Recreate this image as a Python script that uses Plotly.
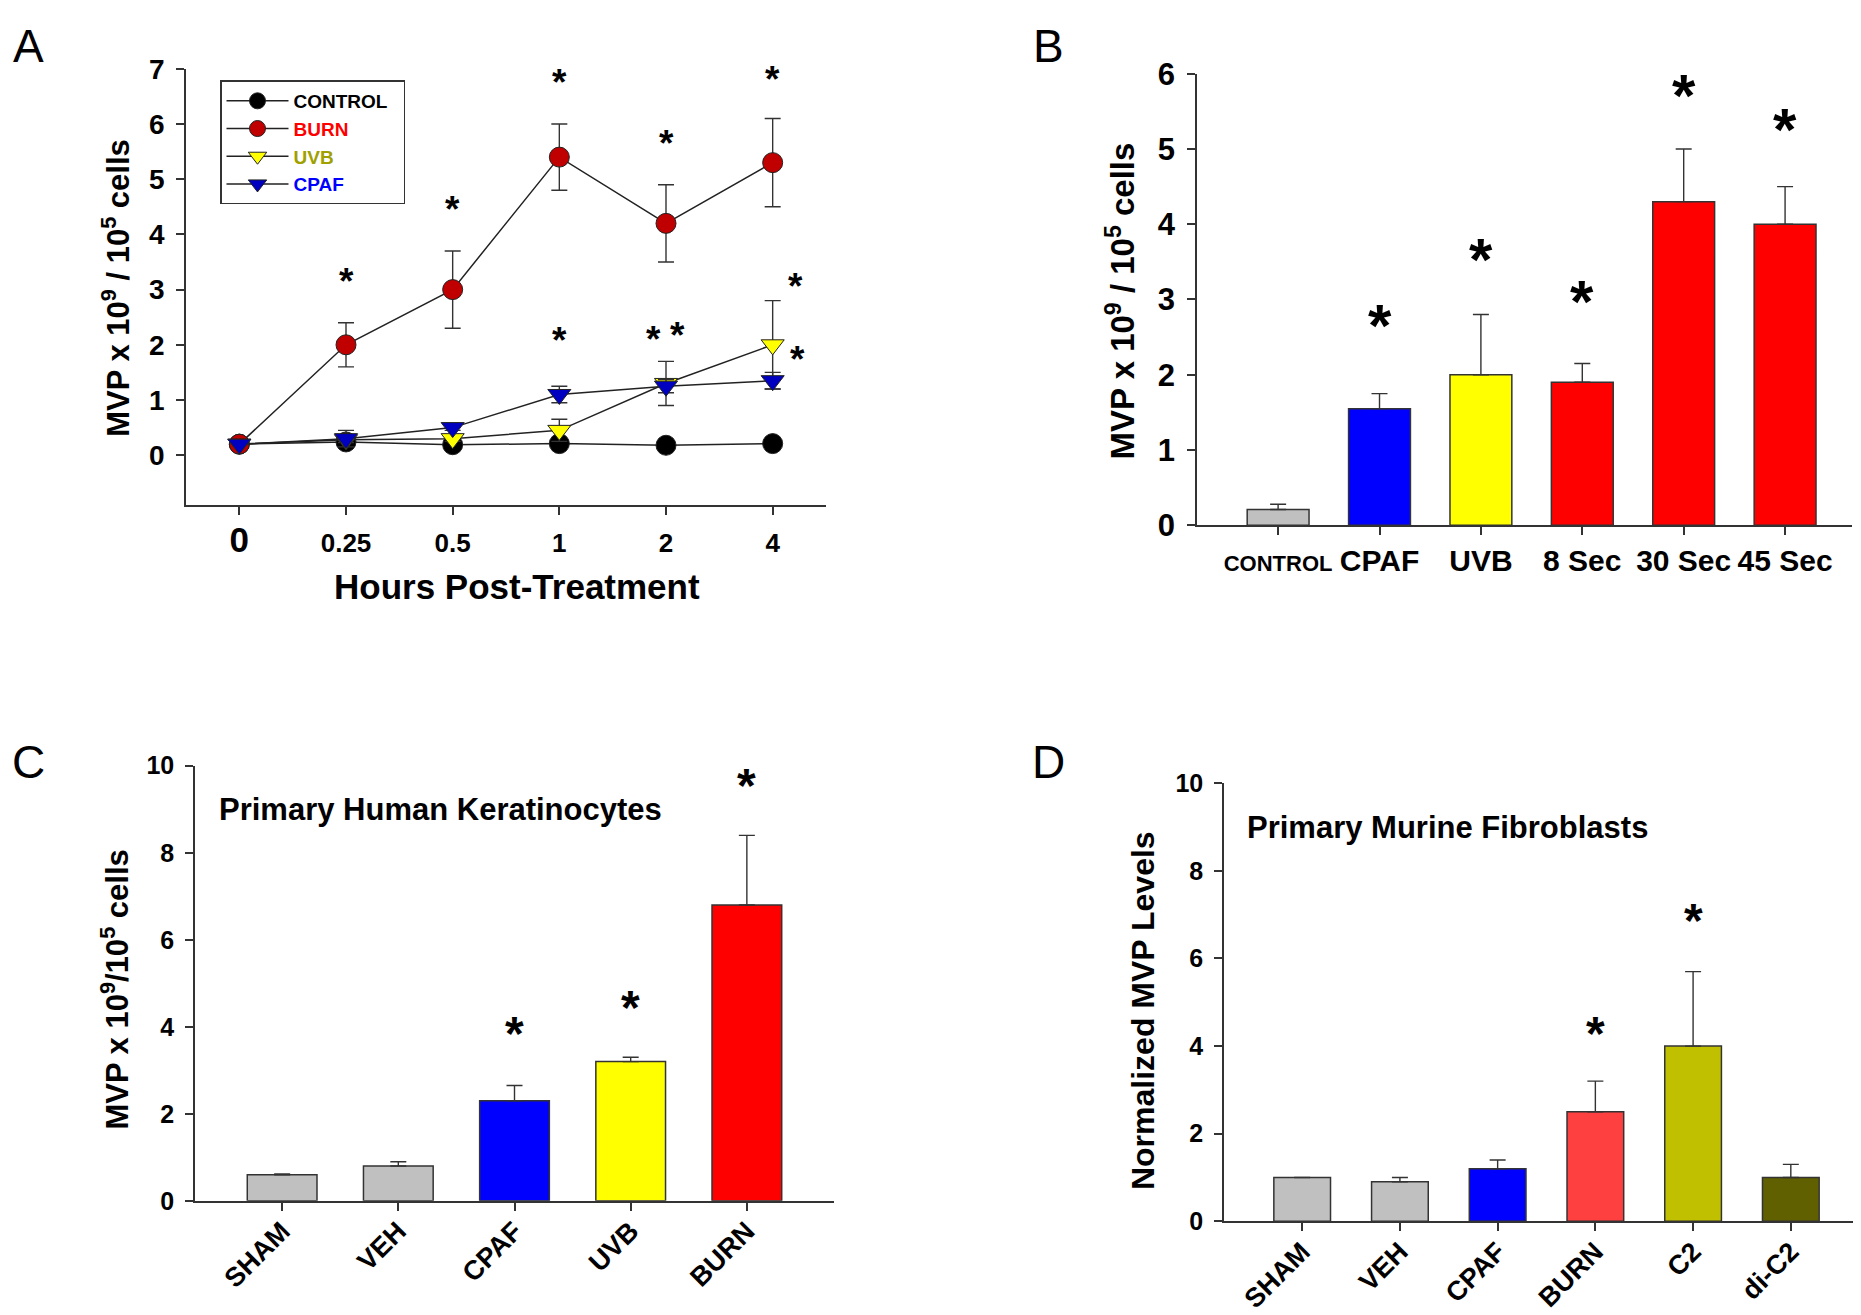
import plotly.graph_objects as go

W, H = 1861, 1315

# ---------------- Panel A data ----------------
a_hours = ["0", "0.25", "0.5", "1", "2", "4"]
a_control = [0.20, 0.24, 0.19, 0.21, 0.18, 0.21]
a_burn = [0.20, 2.00, 3.00, 5.40, 4.20, 5.30]
a_burn_err = [0.0, 0.40, 0.70, 0.60, 0.70, 0.80]
a_uvb = [0.20, 0.28, 0.30, 0.45, 1.30, 2.00]
a_uvb_err = [0.0, 0.05, 0.05, 0.20, 0.40, 0.80]
a_cpaf = [0.20, 0.30, 0.50, 1.10, 1.25, 1.35]
a_cpaf_err = [0.0, 0.15, 0.05, 0.15, 0.12, 0.15]
a_star_x = [1, 2, 3, 4, 5, 3, 3.88, 4.11, 5.21, 5.23]
a_star_y = [3.04, 4.33, 6.63, 5.54, 6.69, 1.96, 1.99, 2.06, 2.94, 1.62]

# ---------------- Panel B data ----------------
b_cats = ["CONTROL", "CPAF", "UVB", "8 Sec", "30 Sec", "45 Sec"]
b_vals = [0.21, 1.55, 2.00, 1.90, 4.30, 4.00]
b_err = [0.07, 0.20, 0.80, 0.25, 0.70, 0.50]
b_colors = ["#c0c0c0", "#0000ff", "#ffff00", "#ff0000", "#ff0000", "#ff0000"]
b_star_x = [1, 2, 3, 4, 5]
b_star_y = [2.52, 3.40, 2.84, 5.58, 5.12]

# ---------------- Panel C data ----------------
c_cats = ["SHAM", "VEH", "CPAF", "UVB", "BURN"]
c_vals = [0.60, 0.80, 2.30, 3.20, 6.80]
c_err = [0.02, 0.10, 0.35, 0.10, 1.60]
c_colors = ["#c0c0c0", "#c0c0c0", "#0000ff", "#ffff00", "#ff0000"]
c_star_x = [2, 3, 4]
c_star_y = [3.66, 4.26, 9.35]

# ---------------- Panel D data ----------------
d_cats = ["SHAM", "VEH", "CPAF", "BURN", "C2", "di-C2"]
d_vals = [1.00, 0.90, 1.20, 2.50, 4.00, 1.00]
d_err = [0.0, 0.10, 0.20, 0.70, 1.70, 0.30]
d_colors = ["#c0c0c0", "#c0c0c0", "#0000ff", "#ff4040", "#c0c000", "#606000"]
d_star_x = [3, 4]
d_star_y = [4.11, 6.69]

ARIAL = "Liberation Sans, Arial, DejaVu Sans"
INK = "#333333"


def px_dom_x(a, b):
    return [a / W, b / W]


def px_dom_y(top, bottom):
    return [1 - bottom / H, 1 - top / H]


def bold(size):
    return dict(family=ARIAL, size=size, color="#000", weight="bold")


fig = go.Figure()

# ---- Panel A traces ----
xa = list(range(len(a_hours)))
err_style = dict(type="data", visible=True, color=INK, thickness=1.4, width=8)
fig.add_trace(go.Scatter(
    x=xa, y=a_control, mode="lines+markers", name="CONTROL&nbsp;&nbsp;",
    line=dict(color="#222222", width=1.5),
    marker=dict(symbol="circle", size=20, color="#000000", line=dict(color="#222222", width=1)),
    xaxis="x", yaxis="y"))
fig.add_trace(go.Scatter(
    x=xa, y=a_burn, mode="lines+markers",
    name="<span style='color:#ff0000'>BURN</span>",
    line=dict(color="#222222", width=1.5),
    error_y=dict(array=a_burn_err, **err_style),
    marker=dict(symbol="circle", size=20, color="#c00000", line=dict(color="#222222", width=1)),
    xaxis="x", yaxis="y"))
fig.add_trace(go.Scatter(
    x=xa, y=a_uvb, mode="lines+markers",
    name="<span style='color:#a0a000'>UVB</span>",
    line=dict(color="#222222", width=1.5),
    error_y=dict(array=a_uvb_err, **err_style),
    marker=dict(symbol="triangle-down", size=20, color="#ffff00", line=dict(color="#222222", width=1)),
    xaxis="x", yaxis="y"))
fig.add_trace(go.Scatter(
    x=xa, y=a_cpaf, mode="lines+markers",
    name="<span style='color:#0000ff'>CPAF</span>",
    line=dict(color="#222222", width=1.5),
    error_y=dict(array=a_cpaf_err, **err_style),
    marker=dict(symbol="triangle-down", size=20, color="#0000c0", line=dict(color="#222222", width=1)),
    xaxis="x", yaxis="y"))


def add_bars(cats, vals, errs, colors, xaxis, yaxis, width):
    fig.add_trace(go.Bar(
        x=list(range(len(cats))), y=vals, width=width,
        marker=dict(color=colors, line=dict(color=INK, width=1.5)),
        error_y=dict(type="data", array=errs, arrayminus=[0] * len(errs), symmetric=False,
                     color=INK, thickness=1.4, width=8),
        showlegend=False, xaxis=xaxis, yaxis=yaxis))


add_bars(b_cats, b_vals, b_err, b_colors, "x2", "y2", 0.61)
add_bars(c_cats, c_vals, c_err, c_colors, "x3", "y3", 0.6)
add_bars(d_cats, d_vals, d_err, d_colors, "x4", "y4", 0.58)

axis_common = dict(showgrid=False, zeroline=False, showline=True, linecolor=INK, linewidth=1.5,
                   ticks="outside", ticklen=8, tickwidth=1.5, tickcolor=INK)

a_ticktext = ["<span style='font-size:35px'>%s</span>" % h if h == "0" else h for h in a_hours]
b_ticktext = ["<span style='font-size:22px'>%s</span>" % c if c == "CONTROL" else c for c in b_cats]

fig.update_layout(
    width=W, height=H, margin=dict(l=0, r=0, t=0, b=0),
    paper_bgcolor="white", plot_bgcolor="white",
    xaxis=dict(domain=px_dom_x(178, 818), range=[-0.5, 5.5], anchor="y",
               tickvals=xa, ticktext=a_ticktext, tickangle=0, ticklabelstandoff=6,
               tickfont=bold(26), **axis_common),
    yaxis=dict(domain=px_dom_y(45, 493), range=[-0.9, 7], anchor="x",
               tickvals=list(range(0, 8)), ticklabelstandoff=6,
               tickfont=bold(28), **axis_common),
    xaxis2=dict(domain=px_dom_x(1189, 1844), range=[-0.8, 5.66], anchor="y2",
                tickvals=list(range(len(b_cats))), ticktext=b_ticktext, tickangle=0,
                tickfont=bold(30), **axis_common),
    yaxis2=dict(domain=px_dom_y(50, 514), range=[0, 6], anchor="x2",
                tickvals=list(range(0, 7)), ticklabelstandoff=6,
                tickfont=bold(31), **axis_common),
    xaxis3=dict(domain=px_dom_x(187, 826), range=[-0.75, 4.75], anchor="y3",
                tickvals=list(range(len(c_cats))), ticktext=c_cats, tickangle=-45,
                ticklabelstandoff=-6, tickfont=bold(27), **axis_common),
    yaxis3=dict(domain=px_dom_y(761, 1208), range=[0, 10], anchor="x3",
                tickvals=list(range(0, 11, 2)), ticklabelstandoff=6,
                tickfont=bold(25), **axis_common),
    xaxis4=dict(domain=px_dom_x(1216, 1861), range=[-0.8, 5.8], anchor="y4",
                tickvals=list(range(len(d_cats))), ticktext=d_cats, tickangle=-45,
                ticklabelstandoff=-6, tickfont=bold(27), **axis_common),
    yaxis4=dict(domain=px_dom_y(779, 1229), range=[0, 10], anchor="x4",
                tickvals=list(range(0, 11, 2)), ticklabelstandoff=6,
                tickfont=bold(25), **axis_common),
    legend=dict(x=212 / W, y=1 - 57 / H, xanchor="left", yanchor="top",
                bordercolor=INK, borderwidth=1.5, bgcolor="white",
                font=bold(19), itemsizing="trace", itemwidth=62, tracegroupgap=0),
    showlegend=True,
)

ann = []


def star(x, y, xref, yref, size):
    ann.append(dict(x=x, y=y, xref=xref, yref=yref, text="*", showarrow=False,
                    font=bold(size), xanchor="center", yanchor="middle", yshift=0.17 * size))


for x, y in zip(a_star_x, a_star_y):
    star(x, y, "x", "y", 37)
for x, y in zip(b_star_x, b_star_y):
    star(x, y, "x2", "y2", 60)
for x, y in zip(c_star_x, c_star_y):
    star(x, y, "x3", "y3", 48)
for x, y in zip(d_star_x, d_star_y):
    star(x, y, "x4", "y4", 48)


def ptext(text, x, y, size, weight="normal", angle=0, xanchor="center"):
    ann.append(dict(x=x / W, y=1 - y / H, xref="paper", yref="paper", text=text, showarrow=False,
                    textangle=angle, xanchor=xanchor, yanchor="middle",
                    font=dict(family=ARIAL, size=size, color="#000", weight=weight)))


# panel letters
ptext("A", 20, 22, 46)
ptext("B", 1040, 22, 46)
ptext("C", 20, 757, 46)
ptext("D", 1040, 757, 46)

# axis titles
ptext("MVP x 10<sup>9</sup> / 10<sup>5</sup> cells", 108, 270, 31, weight="bold", angle=-90)
ptext("Hours Post-Treatment", 509, 577, 35, weight="bold")
ptext("MVP x 10<sup>9</sup> / 10<sup>5</sup> cells", 1113, 284, 33, weight="bold", angle=-90)
ptext("MVP x 10<sup>9</sup>/10<sup>5</sup> cells", 107, 991, 31, weight="bold", angle=-90)
ptext("Normalized MVP Levels", 1135, 1013, 32, weight="bold", angle=-90)

# in-panel titles
ann.append(dict(x=-0.56, y=9.0, xref="x3", yref="y3", text="Primary Human Keratinocytes",
                showarrow=False, xanchor="left", yanchor="middle", font=bold(31)))
ann.append(dict(x=-0.59, y=9.0, xref="x4", yref="y4", text="Primary Murine Fibroblasts",
                showarrow=False, xanchor="left", yanchor="middle", font=bold(31)))

fig.update_layout(annotations=ann)

fig.write_html("out.html")
